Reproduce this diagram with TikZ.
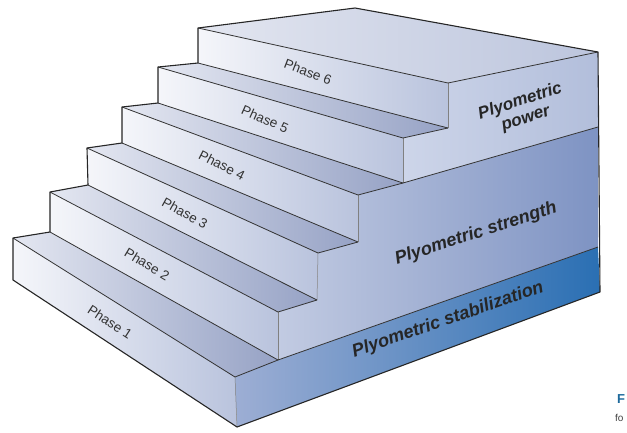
\documentclass[tikz,border=0pt]{standalone}
\usepackage{fontspec}
\setmainfont{Liberation Sans}
\definecolor{riserL}{HTML}{F5F6FA}
\definecolor{riserR}{HTML}{B9C3DD}
\definecolor{treadL}{HTML}{E4E7F1}
\definecolor{treadR}{HTML}{96A2C5}
\definecolor{topL}{HTML}{E3E6F0}
\definecolor{topR}{HTML}{BCC5DD}
\definecolor{powL}{HTML}{CDD5E9}
\definecolor{powR}{HTML}{B2BEDB}
\definecolor{strL}{HTML}{C2CBE2}
\definecolor{strR}{HTML}{7E93C3}
\definecolor{stabL}{HTML}{9DAED4}
\definecolor{stabR}{HTML}{2A6FB3}
\definecolor{capblue}{HTML}{1E6A9C}
\begin{document}
\begin{tikzpicture}[x=1pt,y=-1pt]
\tikzset{
  outline/.style={draw=black!85, line width=1.1pt, line join=round},
  inedge/.style={draw=black!80, line width=0.8pt},
  thinedge/.style={draw=black!50, line width=0.5pt},
  phase/.style={font=\fontsize{13.5}{14}\selectfont, text=black!80, inner sep=0pt},
  plyo/.style={font=\bfseries\itshape\fontsize{17}{18}\selectfont, text=black!85, inner sep=0pt, align=center},
}
\useasboundingbox (0,0) rectangle (627,432);
% corner points
\coordinate (TL1) at (13,238); \coordinate (BL1) at (13,280);
\coordinate (TR1) at (235,377); \coordinate (BR1) at (237,427);
\coordinate (TL2) at (50,192); \coordinate (BL2) at (50,232);
\coordinate (TR2) at (278,312); \coordinate (BR2) at (278,360);
\coordinate (TL3) at (87,148); \coordinate (BL3) at (88,185);
\coordinate (TR3) at (318,253); \coordinate (BR3) at (317,300);
\coordinate (TL4) at (122,107); \coordinate (BL4) at (122,143);
\coordinate (TR4) at (358,195); \coordinate (BR4) at (358,242);
\coordinate (TL5) at (158,67); \coordinate (BL5) at (158,103);
\coordinate (TR5) at (403,138); \coordinate (BR5) at (403,183);
\coordinate (TL6) at (198,28); \coordinate (BL6) at (198,63);
\coordinate (TR6) at (448,83); \coordinate (BR6) at (448,128);
\coordinate (K1) at (355,8); \coordinate (K2) at (598,52);
\coordinate (K3) at (598,127); \coordinate (K4) at (598,247);
\coordinate (K5) at (600,292);
% right faces
\shade[left color=stabL, right color=stabR] (TR1) -- (BR1) -- (K5) -- (K4) -- (BR2) -- cycle;
\shade[left color=strL, right color=strR] (BR2) -- (TR2) -- (BR3) -- (TR3) -- (BR4) -- (TR4) -- (BR5) -- (K3) -- (K4) -- cycle;
\shade[left color=powL, right color=powR] (BR5) -- (TR5) -- (BR6) -- (TR6) -- (K2) -- (K3) -- cycle;
% top
\shade[left color=topL, right color=topR] (TL6) -- (K1) -- (K2) -- (TR6) -- cycle;
% risers
\foreach \i in {1,...,6}{
  \shade[left color=riserL, right color=riserR] (TL\i) -- (TR\i) -- (BR\i) -- (BL\i) -- cycle;
}
% treads
\foreach \i/\j in {1/2,2/3,3/4,4/5,5/6}{
  \shade[left color=treadL, right color=treadR] (TL\i) -- (TR\i) -- (BR\j) -- (BL\j) -- cycle;
}
% edges
\foreach \i in {1,...,6}{
  \draw[inedge] (TL\i) -- (TR\i);
  \draw[thinedge] (TR\i) -- (BR\i);
}
\foreach \i/\j in {1/2,2/3,3/4,4/5,5/6}{
  \draw[inedge] (BL\j) -- (BR\j);
  \draw[inedge] (TR\i) -- (BR\j);
}
\draw[inedge] (BR2) -- (K4);
\draw[inedge] (BR5) -- (K3);
\draw[inedge] (TR6) -- (K2);
\draw[outline] (BL1) -- (BR1) -- (K5) -- (K2) -- (K1) -- (TL6) -- (BL6) -- (TL5) -- (BL5)
  -- (TL4) -- (BL4) -- (TL3) -- (BL3) -- (TL2) -- (BL2) -- (TL1) -- cycle;
% labels
\node[phase, rotate=-33] (ph1) at (110,322) {Phase 1};
\node[phase, rotate=-31] (ph2) at (147,264) {Phase 2};
\node[phase, rotate=-29] (ph3) at (185,213) {Phase 3};
\node[phase, rotate=-27] (ph4) at (222,165) {Phase 4};
\node[phase, rotate=-24] (ph5) at (265,119) {Phase 5};
\node[phase, rotate=-21] (ph6) at (308,72) {Phase 6};
\node[plyo, rotate=18] (pw) at (523,110) {Plyometric\\power};
\node[plyo, font=\bfseries\itshape\fontsize{18}{19}\selectfont, rotate=18] (st) at (476,234) {Plyometric strength};
\node[plyo, font=\bfseries\itshape\fontsize{18}{19}\selectfont, rotate=19] (sb) at (448,320) {Plyometric stabilization};
% caption fragment
\node[anchor=west, inner sep=0pt, text=capblue, font=\bfseries\fontsize{13}{13}\selectfont] (capF) at (617,399) {F};
\node[anchor=west, inner sep=0pt, text=black!75, font=\fontsize{10}{10}\selectfont] (capfo) at (615,418) {fo};
\end{tikzpicture}
\end{document}
